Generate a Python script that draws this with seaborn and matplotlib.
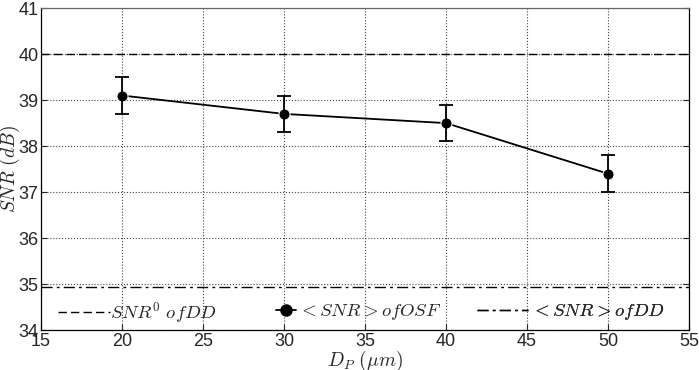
import numpy as np
import pandas as pd
import matplotlib
matplotlib.use('Agg')
import matplotlib.pyplot as plt
import seaborn as sns

# data
dp_um = [20, 30, 40, 50]
snr_osf = [39.1, 38.7, 38.5, 37.4]
snr_err = [0.4, 0.4, 0.4, 0.4]
snr0_dd = 40.0
snr_mean_dd = 34.93

x_ticks = [15, 20, 25, 30, 35, 40, 45, 50, 55]
y_ticks = [34, 35, 36, 37, 38, 39, 40, 41]
legend_labels = [r'$SNR^0\ ofDD$', r'$<SNR>ofOSF$', r'$<SNR>ofDD$']

sns.set_style('white')
plt.rcParams['font.family'] = ['Liberation Sans', 'DejaVu Sans']
plt.rcParams['mathtext.fontset'] = 'cm'

df = pd.DataFrame({'dp': dp_um, 'snr': snr_osf, 'err': snr_err})

fig = plt.figure(figsize=[6.99, 3.70], dpi=100)
ax = fig.add_axes([0.0587, 0.108, 0.927, 0.870])

h0 = ax.axhline(snr0_dd, color='black', lw=1.0, ls=(0, (6, 3)))
sns.lineplot(data=df, x='dp', y='snr', color='black', marker='o', markersize=8,
             lw=1.3, ax=ax, legend=False)
ax.errorbar(df['dp'], df['snr'], yerr=df['err'], fmt='none', ecolor='black',
            elinewidth=1.3, capsize=5, capthick=1.3)
h2 = ax.axhline(snr_mean_dd, color='black', lw=1.0, ls=(0, (8, 3, 2, 3)))
h1 = plt.Line2D([], [], color='black', marker='o', markersize=8, lw=1.3)

ax.set_xlim(15, 55)
ax.set_ylim(34, 41)
ax.set_xticks(x_ticks)
ax.set_yticks(y_ticks)
ax.grid(True, color='#444444', ls=':', lw=0.8)
ax.tick_params(direction='in', length=4, labelsize=13, right=True, top=False,
               left=True, bottom=True, pad=2)
for s in ax.spines.values():
    s.set_color('black')
    s.set_linewidth(0.9)
ax.spines['top'].set_color('#666666')

ax.set_xlabel(r'$D_P\ (\mu m)$', fontsize=14, labelpad=-1)
ax.set_ylabel(r'$SNR\ (dB)$', fontsize=14)
ax.yaxis.set_label_coords(-0.029, 0.5)

# three separate one-entry legends, laid out along the bottom like the original
legend_specs = [(h0, legend_labels[0], 0.026, 2.8, 0.0),
                (h1, legend_labels[1], 0.362, 1.1, 0.1),
                (h2, legend_labels[2], 0.673, 2.7, 0.2)]
for handle, label, xpos, hl, pad in legend_specs:
    leg = ax.legend([handle], [label], loc='center left', frameon=False,
                    fontsize=13.5, handlelength=hl, handletextpad=pad,
                    borderpad=0, borderaxespad=0,
                    bbox_to_anchor=(xpos, 0.055))
    ax.add_artist(leg)

fig.savefig('out.png', dpi=100)
